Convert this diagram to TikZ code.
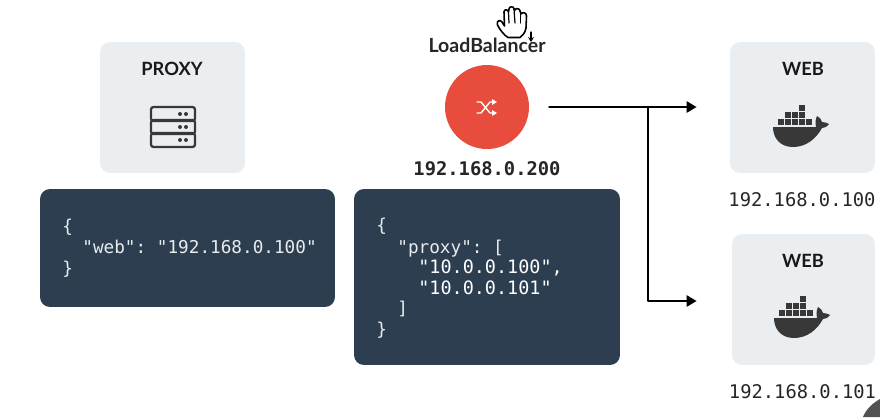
\documentclass[tikz,border=0pt]{standalone}
\usepackage{fontspec}
\setmainfont{Lato}
\setmonofont{DejaVu Sans Mono}
\usetikzlibrary{arrows.meta}
\definecolor{cardgray}{HTML}{EBEEF0}
\definecolor{codeblue}{HTML}{2C3E50}
\definecolor{codetext}{HTML}{E8ECEE}
\definecolor{lbred}{HTML}{E74C3C}
\definecolor{icondark}{HTML}{383838}
\tikzset{
  card/.style={fill=cardgray,rounded corners=2mm,inner sep=0pt,minimum width=2.9cm,minimum height=2.62cm},
  codebox/.style={fill=codeblue,rounded corners=2mm,inner sep=0pt},
  codeline/.style={anchor=base west,inner sep=0pt,text=codetext,font=\ttfamily\fontsize{10.07}{12}\selectfont},
  codebright/.style={codeline,text=white,font=\ttfamily\fontsize{10.5}{12}\selectfont},
  title/.style={inner sep=0pt,font=\bfseries\fontsize{10.4}{12}\selectfont,text=black!90},
  iplabel/.style={inner sep=0pt,font=\ttfamily\fontsize{10.7}{12}\selectfont,text=black!85},
  wire/.style={line width=1.5pt,-{Triangle[length=2mm,width=2.2mm]}},
  pics/whale/.style={code={
    \fill[icondark] (-29,0) -- (14,0) .. controls (13,-5) and (14,-9) .. (15,-11)
      .. controls (18,-9) and (20,-7) .. (20,-5) .. controls (23,-5) and (25,-4) .. (27,-3)
      .. controls (25,0) and (22,1) .. (20,1) .. controls (14,12) and (4,20) .. (-9,20)
      .. controls (-22,20) and (-29,11) .. (-29,0) -- cycle;
    \foreach \i in {-24,-17,...,4}
    {
      \fill[icondark] (\i,-8) rectangle (\i+6,-2);
    }
    \foreach \i in {-17,-10,-3}
    {
      \fill[icondark] (\i,-15) rectangle (\i+6,-9);
    }
    \fill[icondark] (-3,-22) rectangle (3,-16);
  }}
}

\begin{document}
\begin{tikzpicture}
 [line cap=round,line join=round,x=0.02cm,y=-0.02cm]
\useasboundingbox (0,0) rectangle (880,417);

% cards
\node[card] (proxy) at (172.5,107.5) {};
\node[card] (web1) at (802.5,107.5) {};
\node[card,minimum width=2.86cm] (web2) at (803.5,299.5) {};
\node[title] (proxytitle) at (172,69) {PROXY};
\node[title] (web1title) at (803,69) {WEB};
\node[title] (web2title) at (803,261) {WEB};

% server icon
\foreach \i in {107,120,133}
{
	\draw [line width=1.3pt,draw=icondark,rounded corners=0.5mm] (151,\i) rectangle (195,\i+14);
	\fill [icondark] (180,\i+7) circle (2);
	\fill [icondark] (186,\i+7) circle (2);
}

% docker icons
\pic at (802,127) {whale};
\pic at (803,318) {whale};

% load balancer
\node[circle,fill=lbred,minimum size=1.68cm,inner sep=0pt] (lb) at (487,107) {};
\node[inner sep=0pt,font=\bfseries\fontsize{11.1}{13}\selectfont,text=black!85] (lbtitle) at (487,45) {LoadBalancer};
\node[iplabel,font=\ttfamily\bfseries\fontsize{10.7}{12}\selectfont] (lbip) at (487,169) {192.168.0.200};
\node[iplabel] (web1ip) at (802,200) {192.168.0.100};
\node[iplabel] (web2ip) at (802.5,392) {192.168.0.101};

% shuffle icon
\draw [white,line width=0.8pt] (477,102) -- (481,102) -- (490,113) -- (494,113);
\draw [white,line width=0.8pt] (477,113) -- (481,113) -- (490,102) -- (494,102);
\fill [white] (492,99) -- (497,102) -- (492,105) -- cycle;
\fill [white] (492,110) -- (497,113) -- (492,116) -- cycle;

% connectors
\coordinate (split) at (648,107);
\draw[wire,shorten <=0.4cm,shorten >=0.66cm] (lb.east) -- (lb.east -| web1.west);
\draw[wire,shorten >=0.7cm] (split) |- ([yshift=-0.03cm]web2.west);

% code boxes
\node[codebox,minimum width=5.9cm,minimum height=2.36cm] (webcode) at (187.5,248) {};
\node[codebox,minimum width=5.32cm,minimum height=3.52cm] (proxycode) at (487,277) {};

\node[codeline] (wl1) at (62,232) {\{};
\node[codeline] (wl2) at (82,253) {"web": "192.168.0.100"};
\node[codeline] (wl3) at (62,274) {\}};

\node[codeline] (pl1) at (376,231) {\{};
\node[codeline] (pl2) at (397,253) {"proxy": [};
\node[codebright] (pl3) at (418,273) {"10.0.0.100",};
\node[codebright] (pl4) at (418,294) {"10.0.0.101"};
\node[codeline] (pl5) at (397,314) {]};
\node[codeline] (pl6) at (376,335) {\}};

% hand cursor
\draw [fill=white,line width=0.9pt] (508,37.5) .. controls (504,35) and (500,30) .. (497.5,25)
  .. controls (496,21) and (500,19) .. (502,22) -- (504.5,26) -- (504,12)
  .. controls (504,9) and (508,9) .. (508.5,12) -- (509,9)
  .. controls (509,6) and (514,6) .. (514,9) -- (515,10)
  .. controls (515,8) and (520,8) .. (520,11) -- (521,14)
  .. controls (522,12) and (526.5,12) .. (526.5,16) -- (526,28)
  .. controls (525,33) and (523,35) .. (520,37.5) -- cycle;
\draw [line width=0.7pt] (508.5,12) -- (509,23);
\draw [line width=0.7pt] (514,9) -- (515,23);
\draw [line width=0.7pt] (520.5,12) -- (520.5,23);
\draw [line width=0.7pt,-{Stealth[length=1mm,width=1.2mm]}] (531,32) -- (531,42);

% corner of the dark shape at the bottom right
\fill [black!68] (863,417) .. controls (866,409) and (873,403) .. (880,399) -- (880,417) -- cycle;
\end{tikzpicture}
\end{document}
